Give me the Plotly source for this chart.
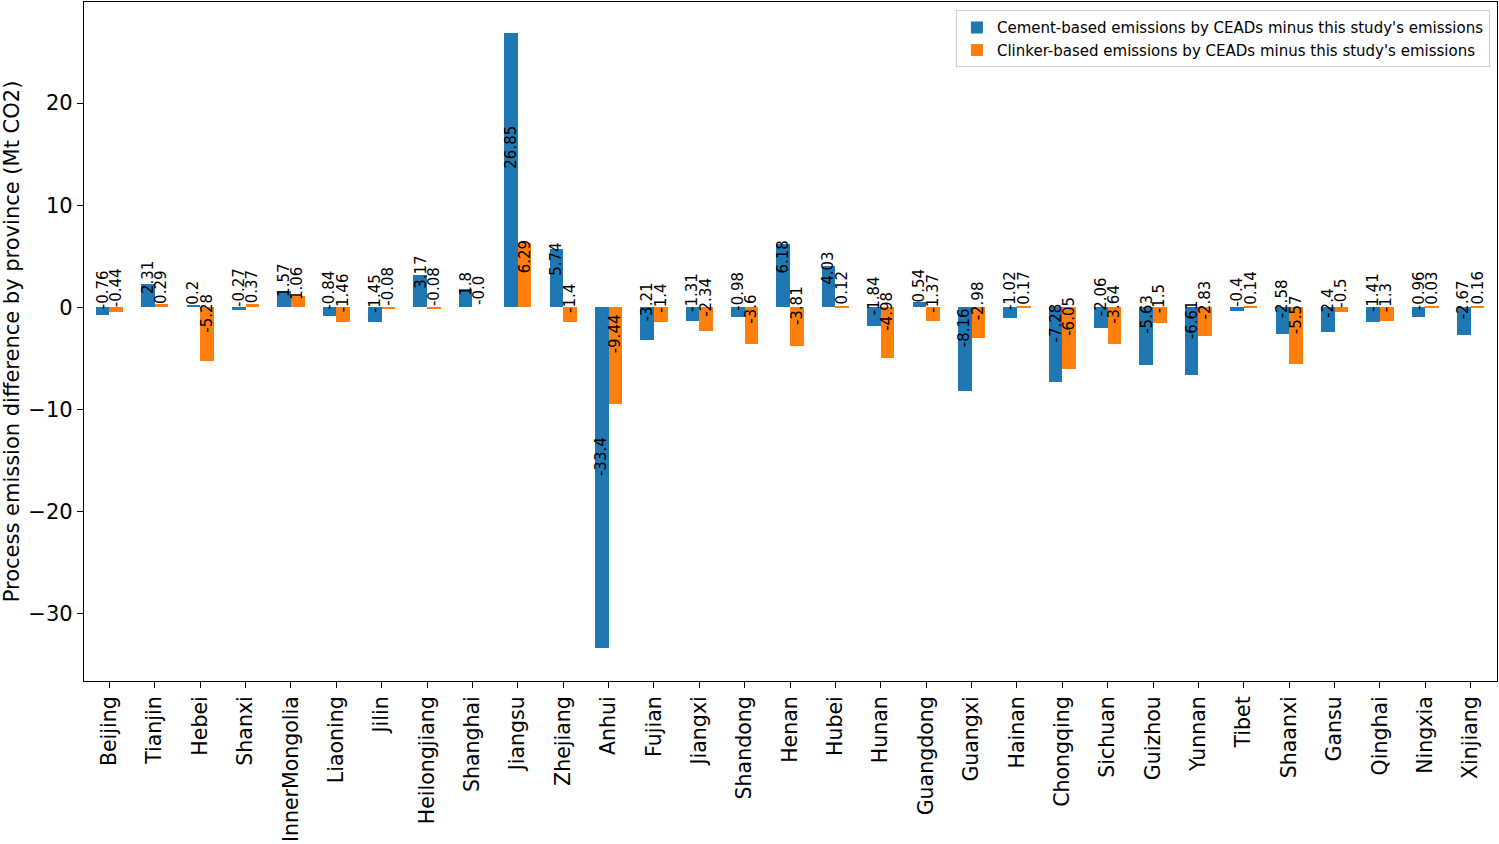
import plotly.graph_objects as go

provinces = ["Beijing", "Tianjin", "Hebei", "Shanxi", "InnerMongolia", "Liaoning", "Jilin",
             "Heilongjiang", "Shanghai", "Jiangsu", "Zhejiang", "Anhui", "Fujian", "Jiangxi",
             "Shandong", "Henan", "Hubei", "Hunan", "Guangdong", "Guangxi", "Hainan", "Chongqing",
             "Sichuan", "Guizhou", "Yunnan", "Tibet", "Shaanxi", "Gansu", "Qinghai", "Ningxia",
             "Xinjiang"]
cement = [-0.76, 2.31, 0.2, -0.27, 1.57, -0.84, -1.45, 3.17, 1.8, 26.85, 5.74, -33.4, -3.21,
          -1.31, -0.98, 6.18, 4.03, -1.84, 0.54, -8.16, -1.02, -7.28, -2.06, -5.63, -6.61, -0.4,
          -2.58, -2.4, -1.41, -0.96, -2.67]
clinker = [-0.44, 0.29, -5.28, 0.37, 1.06, -1.46, -0.08, -0.08, -0.0, 6.29, -1.4, -9.44, -1.4,
           -2.34, -3.6, -3.81, 0.12, -4.98, -1.37, -2.98, 0.17, -6.05, -3.64, -1.5, -2.83, 0.14,
           -5.57, -0.5, -1.3, 0.03, 0.16]
series_names = ["Cement-based emissions by CEADs minus this study's emissions",
                "Clinker-based emissions by CEADs minus this study's emissions"]
colors = ["#1f77b4", "#ff7f0e"]

W = 0.3
idx = list(range(len(provinces)))
fig = go.Figure()
annotations = []
for k, (vals, name, col) in enumerate(zip([cement, clinker], series_names, colors)):
    off = -W / 2 if k == 0 else W / 2
    xs = [i + off for i in idx]
    fig.add_trace(go.Bar(x=xs, y=vals, width=W, name=name, marker=dict(color=col, line=dict(width=0))))
    for x, v in zip(xs, vals):
        annotations.append(dict(x=x, y=v / 2, xref="x", yref="y", text=str(v), showarrow=False,
                                textangle=-90, xanchor="center", yanchor="bottom",
                                font=dict(size=15, color="black", family="DejaVu Sans")))

fig.update_layout(
    width=1499, height=844,
    margin=dict(l=84, r=2, t=2, b=163),
    plot_bgcolor="white", paper_bgcolor="white",
    font=dict(family="DejaVu Sans", size=16, color="black"),
    barmode="overlay",
    bargap=0,
    annotations=annotations,
    showlegend=True,
    legend=dict(x=0.995, y=0.988, xanchor="right", yanchor="top", bgcolor="rgba(255,255,255,0.8)",
                bordercolor="#cccccc", borderwidth=1, font=dict(size=15), traceorder="normal",
                itemwidth=30, tracegroupgap=0),
)
fig.update_xaxes(range=[-0.56, 30.58], tickmode="array", tickvals=idx, ticktext=provinces,
                 tickangle=-90, ticks="outside", ticklen=6, tickwidth=1.2, tickcolor="black",
                 showline=True, linecolor="black", linewidth=1.2, mirror=True, showgrid=False,
                 zeroline=False, tickfont=dict(size=20.5), automargin=False)
fig.update_yaxes(range=[-36.6, 29.9], tickmode="array", tickvals=[-30, -20, -10, 0, 10, 20],
                 ticks="outside", ticklen=6, tickwidth=1.2, tickcolor="black",
                 showline=True, linecolor="black", linewidth=1.2, mirror=True, showgrid=False,
                 zeroline=False, tickfont=dict(size=21), automargin=False,
                 title=dict(text="Process emission difference by province (Mt CO2)", font=dict(size=21), standoff=6))

fig.write_html("out.html", config={"displayModeBar": False},
               post_script="document.body.style.margin='0';document.body.style.overflow='hidden';")
